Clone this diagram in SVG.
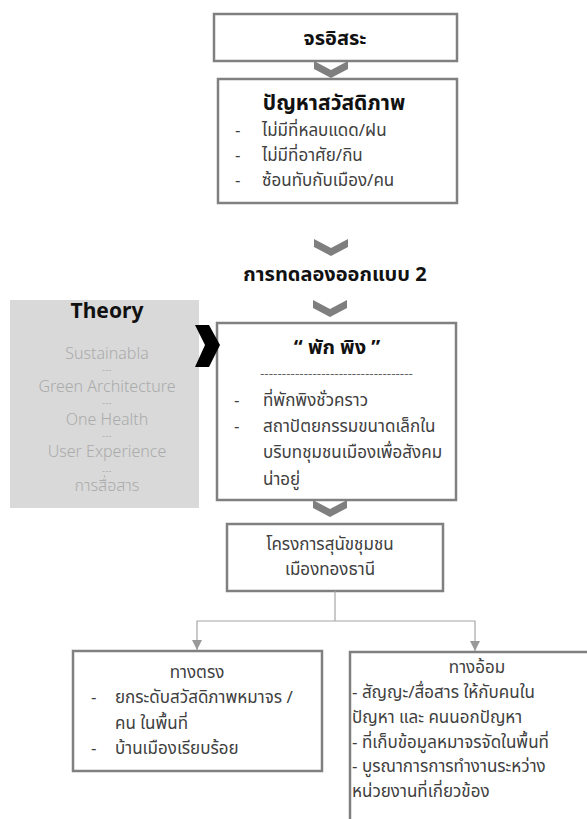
<svg xmlns="http://www.w3.org/2000/svg" width="587" height="819" viewBox="0 0 587 819">
<style>
.box{fill:#fff;stroke:#808080;stroke-width:2.5}
.t{font-family:"Noto Sans Thai","Noto Sans",sans-serif;fill:#404040;font-size:17px}
.c{text-anchor:middle}
.b{font-weight:bold;fill:#111;font-size:20px}
.th{font-family:"Noto Sans",sans-serif;fill:#ababab;font-size:16px;text-anchor:middle;font-weight:300}
.thai{font-family:"Noto Sans Thai","Noto Sans",sans-serif}
.dash{font-family:"Liberation Sans",sans-serif;font-size:8px;letter-spacing:0.5px;fill:#a0a0a0}
.chev{fill:#7f7f7f}
.con{fill:none;stroke:#a6a6a6;stroke-width:1.2}
</style>
<defs>
<marker id="arr" viewBox="0 0 10 10" refX="10" refY="5" markerWidth="10" markerHeight="10" markerUnits="userSpaceOnUse" orient="auto">
<path d="M0,0 L10,5 L0,10 Z" fill="#999"/>
</marker>
<path id="chv" d="M0,0 L17,9 L34,0 L34,8 L17,17 L0,8 Z"/>
</defs>

<g id="n1">
<rect class="box" x="214" y="14" width="243" height="47"/>
<text class="t c b" x="335" y="45">จรอิสระ</text>
</g>

<g id="n2">
<rect class="box" x="218" y="79" width="239" height="124"/>
<text class="t c b" x="334" y="110" style="font-size:21px">ปัญหาสวัสดิภาพ</text>
<text class="t" x="235" y="136">-</text>
<text class="t" x="262" y="136">ไม่มีที่หลบแดด/ฝน</text>
<text class="t" x="235" y="161">-</text>
<text class="t" x="262" y="161">ไม่มีที่อาศัย/กิน</text>
<text class="t" x="235" y="186">-</text>
<text class="t" x="262" y="186">ซ้อนทับกับเมือง/คน</text>
</g>

<g id="n3">
<text class="t c b" x="335" y="281">การทดลองออกแบบ 2</text>
</g>

<g id="theory">
<rect x="10" y="300" width="189" height="208" fill="#d9d9d9"/>
<text class="c b" x="107" y="318" style="font-family:'Noto Sans',sans-serif;font-size:21px">Theory</text>
<text class="th" x="107" y="359">Sustainabla</text>
<text class="th dash" x="107" y="372">---</text>
<text class="th" x="107" y="392">Green Architecture</text>
<text class="th dash" x="107" y="405">---</text>
<text class="th" x="107" y="425">One Health</text>
<text class="th dash" x="107" y="438">---</text>
<text class="th" x="107" y="457">User Experience</text>
<text class="th dash" x="107" y="473">---</text>
<text class="th thai" x="107" y="491">การสื่อสาร</text>
</g>

<g id="n4">
<rect class="box" x="217" y="323" width="239" height="177"/>
<text class="t c b" x="337" y="354">“ พัก พิง ”</text>
<text x="260" y="377" style="font-family:'Noto Sans',sans-serif;font-size:11px;fill:#555" textLength="153" lengthAdjust="spacingAndGlyphs">-----------------------------------</text>
<text class="t" x="234" y="406">-</text>
<text class="t" x="263" y="406">ที่พักพิงชั่วคราว</text>
<text class="t" x="234" y="432">-</text>
<text class="t" x="263" y="432">สถาปัตยกรรมขนาดเล็กใน</text>
<text class="t" x="263" y="458">บริบทชุมชนเมืองเพื่อสังคม</text>
<text class="t" x="263" y="485">น่าอยู่</text>
</g>

<g id="n5">
<rect class="box" x="227" y="524" width="216" height="67"/>
<text class="t c" x="330" y="550">โครงการสุนัขชุมชน</text>
<text class="t c" x="330" y="575">เมืองทองธานี</text>
</g>

<g id="n6">
<rect class="box" x="73" y="651" width="249" height="120"/>
<text class="t c" x="197" y="678">ทางตรง</text>
<text class="t" x="91" y="703">-</text>
<text class="t" x="115" y="703">ยกระดับสวัสดิภาพหมาจร /</text>
<text class="t" x="115" y="729">คน ในพื้นที่</text>
<text class="t" x="91" y="754">-</text>
<text class="t" x="115" y="754">บ้านเมืองเรียบร้อย</text>
</g>

<g id="n7">
<rect class="box" x="350" y="652" width="250" height="180"/>
<text class="t c" x="477" y="673">ทางอ้อม</text>
<text class="t" x="352" y="698">- สัญญะ/สื่อสาร ให้กับคนใน</text>
<text class="t" x="352" y="723">ปัญหา และ คนนอกปัญหา</text>
<text class="t" x="352" y="748">- ที่เก็บข้อมูลหมาจรจัดในพื้นที่</text>
<text class="t" x="352" y="772">- บูรณาการการทำงานระหว่าง</text>
<text class="t" x="352" y="797">หน่วยงานที่เกี่ยวข้อง</text>
</g>

<g id="connectors">
<use href="#chv" class="chev" x="314" y="61"/>
<use href="#chv" class="chev" x="314" y="239"/>
<use href="#chv" class="chev" x="313" y="300"/>
<use href="#chv" class="chev" x="313" y="500"/>
<path d="M195,325 L209,325 L220,345 L209,367 L195,367 L205,345 Z" fill="#000"/>
<path class="con" d="M335,591 V621"/>
<path class="con" d="M335,621 H197 V650" marker-end="url(#arr)"/>
<path class="con" d="M335,621 H475 V651" marker-end="url(#arr)"/>
</g>
</svg>
